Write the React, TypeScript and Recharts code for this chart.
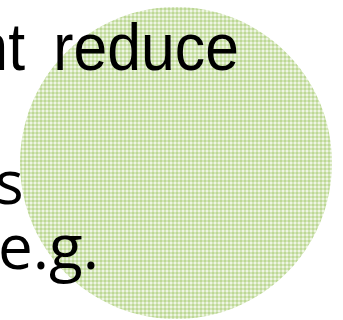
import { PieChart, Pie, Cell } from 'recharts';

// single full slice, drawn as a textured disc
const slices = ['disc'];
const sliceValues = [100];
const textWords = ['nt', 'reduce'];
const textLines = ['s', 'e.g.'];

const chartData = slices.map((name, i) => ({ name, value: sliceValues[i] }));

const SX = 0.92;

const App = () => {
  return (
    <div style={{ position: 'absolute', left: 0, top: 0, width: 343, height: 320, background: '#fff', overflow: 'hidden' }}>
      <svg width={0} height={0} style={{ position: 'absolute' }}>
        <defs>
          {/* gingham-like texture */}
          <pattern id="check" width={4} height={4} patternUnits="userSpaceOnUse">
            <rect x={0} y={0} width={4} height={4} fill="#eef5e3" />
            <rect x={0} y={0} width={2} height={4} fill="#d3e5b8" />
            <rect x={0} y={0} width={4} height={2} fill="#d3e5b8" />
            <rect x={0} y={0} width={2} height={2} fill="#bdd895" />
          </pattern>
        </defs>
      </svg>
      <PieChart width={343} height={320} margin={{ top: 0, right: 0, bottom: 0, left: 0 }}>
        <Pie
          data={chartData}
          dataKey="value"
          nameKey="name"
          cx={176}
          cy={163}
          outerRadius={156}
          startAngle={90}
          endAngle={450}
          stroke="none"
          isAnimationActive={false}
        >
          {chartData.map((d) => (
            <Cell key={d.name} fill="url(#check)" />
          ))}
        </Pie>
      </PieChart>
      <svg width={343} height={320} style={{ position: 'absolute', left: 0, top: 0, pointerEvents: 'none' }}>
        <g transform={`scale(${SX},1)`} fontFamily="Liberation Sans, Arial, sans-serif" fontSize={66} fill="#000">
          <text x={25 / SX} y={70} textAnchor="end">{textWords[0]}</text>
          <text x={239 / SX} y={70} textAnchor="end">{textWords[1]}</text>
        </g>
        <text x={-5} y={204} fontFamily="Open Sans, sans-serif" fontSize={60} fill="#000">
          {textLines[0]}
        </text>
        <text x={-2} y={269} fontFamily="Open Sans, sans-serif" fontSize={62} fill="#000">
          {textLines[1]}
        </text>
      </svg>
    </div>
  );
};

export default App;
